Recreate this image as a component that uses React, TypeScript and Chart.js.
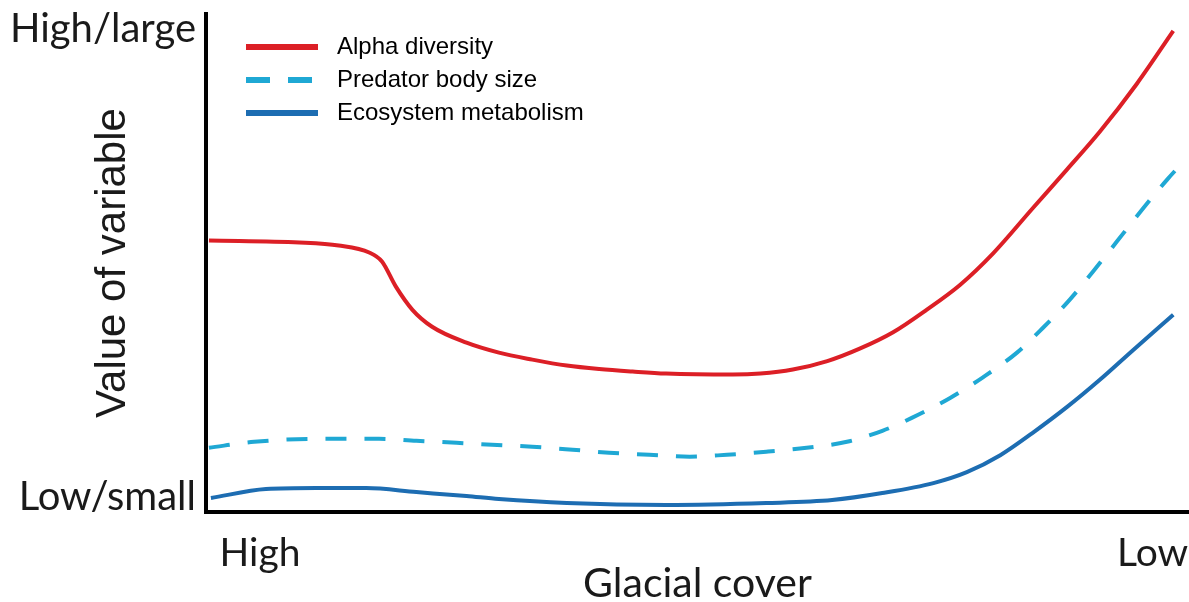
import React, { useEffect, useRef } from "react";
import { Chart, registerables } from "chart.js";

Chart.register(...registerables);

// ---- Data (x: glacial cover axis 0=left "High" .. 100=right "Low"; y: value 0..100) ----
const seriesNames = ["Alpha diversity", "Predator body size", "Ecosystem metabolism"];

const alphaX = [0.3, 9.5, 13.5, 16.6, 17.9, 19.3, 21.0, 23.0, 26.5, 29.8, 33.2, 36.7, 40.0, 43.4, 46.8, 53.6, 56.4, 59.7, 63.2, 66.5, 69.9, 73.3, 76.7, 80.1, 84.1, 87.6, 90.9, 94.7, 98.4];
const alphaY = [54.5, 54.1, 53.5, 52.1, 50.3, 45.3, 40.6, 37.2, 34.0, 32.0, 30.6, 29.4, 28.7, 28.2, 27.8, 27.6, 27.8, 28.6, 30.3, 32.8, 36.1, 40.6, 45.6, 52.0, 61.0, 68.8, 76.3, 86.0, 96.6];

const predatorX = [0.3, 4.9, 11.5, 17.6, 21.4, 25.5, 29.1, 33.2, 37.3, 41.0, 45.1, 49.2, 53.0, 57.0, 61.1, 65.2, 68.8, 71.8, 75.7, 79.0, 82.5, 85.1, 87.9, 90.2, 92.7, 95.3, 97.8, 99.8];
const predatorY = [12.9, 14.1, 14.7, 14.7, 14.3, 13.9, 13.5, 13.1, 12.5, 11.9, 11.5, 11.1, 11.5, 12.1, 12.9, 14.1, 16.3, 18.9, 22.9, 27.0, 32.0, 36.9, 42.7, 48.2, 54.4, 60.9, 66.8, 71.1];

const metabolismX = [0.5, 6.1, 11.2, 16.3, 21.4, 26.5, 29.8, 36.7, 46.8, 57.0, 63.7, 68.8, 74.0, 77.4, 80.8, 84.1, 87.6, 90.9, 94.3, 98.4];
const metabolismY = [2.8, 4.6, 4.8, 4.8, 4.0, 3.2, 2.6, 1.8, 1.4, 1.8, 2.4, 3.8, 5.8, 8.0, 11.4, 15.9, 21.1, 26.5, 32.5, 39.6];

const xTickValues = [5.5, 96.3];
const xTickLabels = ["High", "Low"];
const yTickValues = [3, 97];
const yTickLabels = ["Low/small", "High/large"];
const xTitle = "Glacial cover";
const yTitle = "Value of variable";

const colors = ["#dc1f26", "#1fa8d4", "#1d6db2"];

const toPoints = (xs: number[], ys: number[]) => xs.map((x, i) => ({ x, y: ys[i] }));

const legendPlugin = {
  id: "customLegend",
  afterDraw(chart: any) {
    const { ctx, chartArea } = chart;
    ctx.save();
    chart.data.datasets.forEach((ds: any, i: number) => {
      const y = chartArea.top + 33 + i * 33;
      const x0 = chartArea.left + 40;
      const x1 = chartArea.left + 112;
      ctx.beginPath();
      ctx.strokeStyle = ds.borderColor;
      ctx.lineWidth = 6;
      ctx.setLineDash(ds.borderDash && ds.borderDash.length ? [24, 18] : []);
      ctx.moveTo(x0, y);
      ctx.lineTo(x1, y);
      ctx.stroke();
      ctx.setLineDash([]);
      ctx.fillStyle = "#000";
      ctx.font = "24px 'Liberation Sans', Arial, sans-serif";
      ctx.textAlign = "left";
      ctx.textBaseline = "middle";
      ctx.fillText(ds.label, chartArea.left + 131, y);
    });
    ctx.restore();
  },
};

export default function App() {
  const ref = useRef<HTMLCanvasElement | null>(null);

  useEffect(() => {
    document.body.style.margin = "0";
    if (!ref.current) return;
    const chart = new Chart(ref.current, {
      type: "line",
      data: {
        datasets: [
          {
            label: seriesNames[0],
            data: toPoints(alphaX, alphaY),
            borderColor: colors[0],
            borderWidth: 4,
            pointRadius: 0,
            cubicInterpolationMode: "monotone",
            fill: false,
          },
          {
            label: seriesNames[1],
            data: toPoints(predatorX, predatorY),
            borderColor: colors[1],
            borderWidth: 4,
            borderDash: [21, 18],
            pointRadius: 0,
            cubicInterpolationMode: "monotone",
            fill: false,
          },
          {
            label: seriesNames[2],
            data: toPoints(metabolismX, metabolismY),
            borderColor: colors[2],
            borderWidth: 4,
            pointRadius: 0,
            cubicInterpolationMode: "monotone",
            fill: false,
          },
        ],
      },
      options: {
        responsive: false,
        animation: false,
        devicePixelRatio: 1,
        layout: { padding: { top: 14, right: 0, left: 0, bottom: 0 } },
        plugins: {
          legend: { display: false },
          tooltip: { enabled: false },
        },
        scales: {
          x: {
            type: "linear",
            min: 0,
            max: 100,
            grid: { display: false },
            border: { display: true, color: "#000", width: 4 },
            afterBuildTicks: (scale: any) => {
              scale.ticks = xTickValues.map((v) => ({ value: v }));
            },
            afterFit: (scale: any) => {
              scale.height = 90;
              scale.paddingLeft = 0;
              scale.paddingRight = 0;
            },
            ticks: {
              autoSkip: false,
              maxRotation: 0,
              padding: 10,
              color: "#1a1a1a",
              font: { family: "Lato", size: 39 },
              callback: (value: any) => {
                const i = xTickValues.indexOf(Number(value));
                return i >= 0 ? xTickLabels[i] : "";
              },
            },
            title: {
              display: true,
              text: xTitle,
              color: "#1a1a1a",
              font: { family: "Lato", size: 41, lineHeight: 0.9 },
              padding: { top: 0, bottom: 0 },
            },
          },
          y: {
            type: "linear",
            min: 0,
            max: 100,
            grid: { display: false },
            border: { display: true, color: "#000", width: 4 },
            afterBuildTicks: (scale: any) => {
              scale.ticks = yTickValues.map((v) => ({ value: v }));
            },
            afterFit: (scale: any) => {
              scale.width = 206;
              scale.paddingTop = 0;
              scale.paddingBottom = 0;
            },
            ticks: {
              autoSkip: false,
              padding: 2,
              color: "#1a1a1a",
              font: { family: "Lato", size: 40 },
              callback: (value: any) => {
                const i = yTickValues.indexOf(Number(value));
                return i >= 0 ? yTickLabels[i] : "";
              },
            },
            title: {
              display: true,
              text: yTitle,
              color: "#1a1a1a",
              font: { family: "'Liberation Sans', Arial, sans-serif", size: 42, lineHeight: 1.2 },
              padding: { top: 88, bottom: 0 },
            },
          },
        },
      },
      plugins: [legendPlugin],
    });
    return () => chart.destroy();
  }, []);

  return (
    <div style={{ width: 1189, height: 602, background: "#fff" }}>
      <canvas ref={ref} width={1189} height={602} style={{ display: "block" }} />
    </div>
  );
}
